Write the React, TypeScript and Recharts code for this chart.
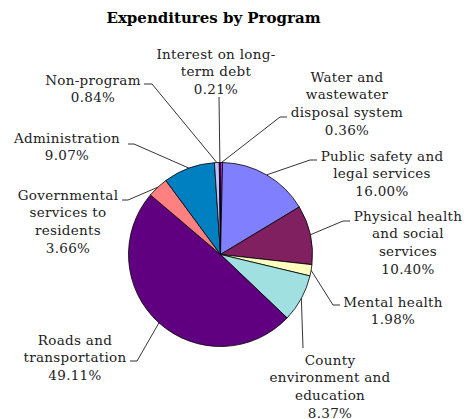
import { PieChart, Pie, Cell } from 'recharts';

const categories = [
	'Water and\nwastewater\ndisposal system',
	'Public safety and\nlegal services',
	'Physical health\nand social\nservices',
	'Mental health',
	'County\nenvironment and\neducation',
	'Roads and\ntransportation',
	'Governmental\nservices to\nresidents',
	'Administration',
	'Non-program',
	'Interest on long-\nterm debt',
];
const shares = [0.36, 16.0, 10.4, 1.98, 8.37, 49.11, 3.66, 9.07, 0.84, 0.21];
const colors = ['#FF00FF', '#8080FF', '#802060', '#FFFFC0', '#A0E0E0', '#600080', '#FF8080', '#0080C0', '#C0C0FF', '#000080'];

const data = categories.map((name, i) => ({ name, value: shares[i] }));

// text block center x, first line center y, leader elbow and end points
const labelLayout = [
	{ x: 347, y: 77, elbow: [280, 117], end: [287, 117] },
	{ x: 382, y: 156, elbow: [310, 160], end: [317, 160] },
	{ x: 408, y: 216, elbow: [343, 221], end: [350, 221] },
	{ x: 393, y: 302, elbow: [333, 305], end: [340, 305] },
	{ x: 330, y: 360, elbow: [303, 348], end: [303, 348] },
	{ x: 75, y: 340, elbow: [137, 361], end: [130, 361] },
	{ x: 68, y: 195, elbow: [128, 200], end: [122, 200] },
	{ x: 67, y: 138, elbow: [134, 144], end: [128, 144] },
	{ x: 93, y: 80, elbow: [152, 84], end: [144, 84] },
	{ x: 216, y: 54, elbow: [219, 97], end: [219, 97] },
];

const FONT = '"DejaVu Serif", serif';
const LINE_H = 17.8;

const renderLabel = (props: any) => {
	const { cx, cy, midAngle, outerRadius, index } = props;
	const layout = labelLayout[index];
	const rad = Math.PI / 180;
	const px = cx + outerRadius * Math.cos(-midAngle * rad);
	const py = cy + outerRadius * Math.sin(-midAngle * rad);
	const lines = [...categories[index].split('\n'), shares[index].toFixed(2) + '%'];
	return (
		<g key={`label-${index}`}>
			<polyline
				points={`${px},${py} ${layout.elbow[0]},${layout.elbow[1]} ${layout.end[0]},${layout.end[1]}`}
				fill="none"
				stroke="#000"
				strokeWidth={0.8}
			/>
			<text
				x={layout.x}
				y={layout.y + 4.5}
				textAnchor="middle"
				fontFamily={FONT}
				fontSize={13.5}
				letterSpacing={0.3}
				fill="#222"
			>
				{lines.map((l, i) => (
					<tspan key={i} x={layout.x} dy={i === 0 ? 0 : LINE_H}>
						{l}
					</tspan>
				))}
			</text>
		</g>
	);
};

export default function App() {
	return (
		<div style={{ position: 'absolute', left: 0, top: 0, width: 468, height: 419, background: '#fff' }}>
			<div
				style={{
					position: 'absolute',
					left: 0,
					top: 9,
					width: 427,
					textAlign: 'center',
					fontFamily: FONT,
					fontWeight: 'bold',
					fontSize: 15,
					lineHeight: '18px',
					color: '#000',
				}}
			>
				Expenditures by Program
			</div>
			<PieChart width={468} height={419} margin={{ top: 0, right: 0, bottom: 0, left: 0 }}>
				<Pie
					data={data}
					dataKey="value"
					nameKey="name"
					cx={220.5}
					cy={254.5}
					outerRadius={92}
					startAngle={90}
					endAngle={-270}
					stroke="#000"
					strokeWidth={0.8}
					label={renderLabel}
					labelLine={false}
					isAnimationActive={false}
				>
					{data.map((d, i) => (
						<Cell key={d.name} fill={colors[i]} />
					))}
				</Pie>
			</PieChart>
		</div>
	);
}
